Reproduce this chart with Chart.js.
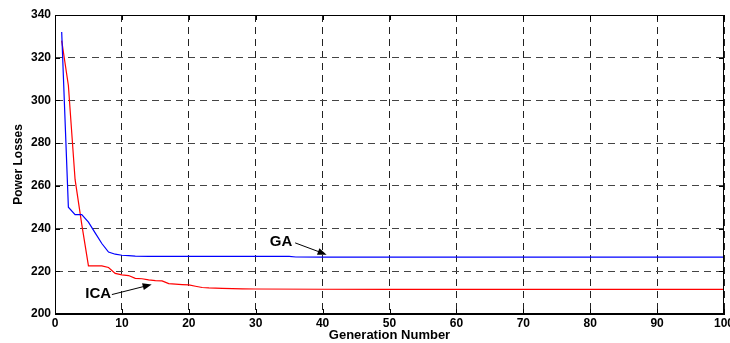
<!DOCTYPE html>
<html>
<head>
<meta charset="utf-8">
<script src="https://cdn.jsdelivr.net/npm/chart.js@4.4.0/dist/chart.umd.min.js"></script>
<style>
  html, body { margin: 0; padding: 0; background: #fff; }
  #wrap { width: 730px; height: 343px; }
</style>
</head>
<body>
<div id="wrap"><canvas id="lossChart"></canvas></div>
<script>
// generations where each curve changes, and the losses
const gaGen  = [1,2,3,4,5,6,7,8,9,10,11,12,14,16,20,25,30,35,36,40,50,60,70,80,90,100];
const gaLoss = [332,250,246.5,246.5,243,238,233,229,228,227.5,227.3,227.1,227,227,227,227,227,227,226.7,226.6,226.6,226.6,226.6,226.6,226.6,226.6];

const icaGen  = [1,2,3,4,5,6,7,8,9,10,11,12,13,14,15,16,17,18,19,20,21,22,23,25,28,30,40,50,60,70,80,90,100];
const icaLoss = [328,307,263,242,222.5,222.5,222.5,221.8,219,218.3,218,216.7,216.5,216,215.6,215.5,214.2,214,213.8,213.6,213,212.4,212.2,212,211.8,211.7,211.6,211.5,211.5,211.5,211.5,211.5,211.5];

const xTicks = [0,10,20,30,40,50,60,70,80,90,100];
const yTicks = [200,220,240,260,280,300,320,340];

function pts(xs, ys){
    return xs.map((x,i) => ({x:x, y:ys[i]}));
}

// box around the plot + inward tick marks (matlab style)
const boxPlugin = {
    id:'box',
    afterDraw(chart){
        const ctx = chart.ctx, a = chart.chartArea;
        const sx = chart.scales.x, sy = chart.scales.y;
        ctx.save();
        ctx.strokeStyle = '#000';
        ctx.lineWidth = 1;
        ctx.setLineDash([]);
        ctx.strokeRect(a.left + 0.5, a.top + 0.5, a.right - a.left - 1, a.bottom - a.top - 1);
        ctx.beginPath();
        xTicks.forEach(v => {
            let px = Math.round(sx.getPixelForValue(v)) + 0.5;
            ctx.moveTo(px, a.bottom); ctx.lineTo(px, a.bottom - 5);
            ctx.moveTo(px, a.top); ctx.lineTo(px, a.top + 5);
        });
        yTicks.forEach(v => {
            let py = Math.round(sy.getPixelForValue(v)) + 0.5;
            ctx.moveTo(a.left, py); ctx.lineTo(a.left + 5, py);
            ctx.moveTo(a.right, py); ctx.lineTo(a.right - 5, py);
        });
        ctx.stroke();
        ctx.restore();
    }
};

// the "GA" / "ICA" labels with arrows
const labelPlugin = {
    id:'labels',
    afterDraw(chart){
        const ctx = chart.ctx;
        const sx = chart.scales.x, sy = chart.scales.y;
        const notes = [
            {text:'GA',  tx:33.8, ty:233.7, ax:35.9, ay:233.3, bx:40.6, by:227.8},
            {text:'ICA', tx:6.47, ty:209.6, ax:8.5,  ay:209.1, bx:14.45, by:213.8}
        ];
        ctx.save();
        ctx.fillStyle = '#000';
        ctx.strokeStyle = '#000';
        ctx.lineWidth = 1;
        ctx.font = 'bold 15px "Liberation Sans", Arial, sans-serif';
        ctx.textAlign = 'center';
        ctx.textBaseline = 'middle';
        notes.forEach(n => {
            ctx.fillText(n.text, sx.getPixelForValue(n.tx), sy.getPixelForValue(n.ty));
            let x1 = sx.getPixelForValue(n.ax), y1 = sy.getPixelForValue(n.ay);
            let x2 = sx.getPixelForValue(n.bx), y2 = sy.getPixelForValue(n.by);
            let ang = Math.atan2(y2 - y1, x2 - x1);
            ctx.beginPath();
            ctx.moveTo(x1, y1);
            ctx.lineTo(x2 - 6 * Math.cos(ang), y2 - 6 * Math.sin(ang));
            ctx.stroke();
            ctx.beginPath();
            ctx.moveTo(x2, y2);
            ctx.lineTo(x2 - 9 * Math.cos(ang) + 3.5 * Math.sin(ang), y2 - 9 * Math.sin(ang) - 3.5 * Math.cos(ang));
            ctx.lineTo(x2 - 9 * Math.cos(ang) - 3.5 * Math.sin(ang), y2 - 9 * Math.sin(ang) + 3.5 * Math.cos(ang));
            ctx.closePath();
            ctx.fill();
        });
        ctx.restore();
    }
};

const tickFont = {family:'"Liberation Sans", Arial, sans-serif', size:12, weight:'bold'};

new Chart(document.getElementById('lossChart'),{
    type:'line',
    data:{
        datasets:[{
            label:'GA',
            data:pts(gaGen, gaLoss),
            borderColor:'#0000ff',
            borderWidth:1.2,
            pointRadius:0,
            tension:0,
            fill:false
        },{
            label:'ICA',
            data:pts(icaGen, icaLoss),
            borderColor:'#ff0000',
            borderWidth:1.2,
            pointRadius:0,
            tension:0,
            fill:false
        }]
    },
    options:{
        responsive:true,
        maintainAspectRatio:false,
        animation:false,
        layout:{padding:{top:15, right:6, left:0, bottom:0}},
        plugins:{legend:{display:false}, tooltip:{enabled:false}},
        scales:{
            x:{
                type:'linear',
                min:0, max:100,
                afterBuildTicks(s){ s.ticks = xTicks.map(v => ({value:v})); },
                afterFit(s){ s.height = 29; s.paddingRight = 0; s.paddingLeft = 0; },
                ticks:{color:'#000', font:tickFont, padding:2, maxRotation:0, autoSkip:false},
                grid:{color:'#222', lineWidth:1, drawTicks:false},
                border:{display:true, color:'#000', width:1, dash:[7,5]},
                title:{display:true, text:'Generation Number', color:'#000',
                       font:{family:'"Liberation Sans", Arial, sans-serif', size:13, weight:'bold'},
                       padding:{top:0, bottom:0}}
            },
            y:{
                min:200, max:340,
                afterBuildTicks(s){ s.ticks = yTicks.map(v => ({value:v})); },
                afterFit(s){ s.width = 55; },
                ticks:{color:'#000', font:tickFont, padding:4},
                grid:{color:'#444', lineWidth:1, drawTicks:false},
                border:{display:true, color:'#000', width:1, dash:[7,5]},
                title:{display:true, text:'Power Losses', color:'#000',
                       font:{family:'"Liberation Sans", Arial, sans-serif', size:12, weight:'bold'},
                       padding:{top:11, bottom:0}}
            }
        }
    },
    plugins:[boxPlugin, labelPlugin]
});
</script>
</body>
</html>
